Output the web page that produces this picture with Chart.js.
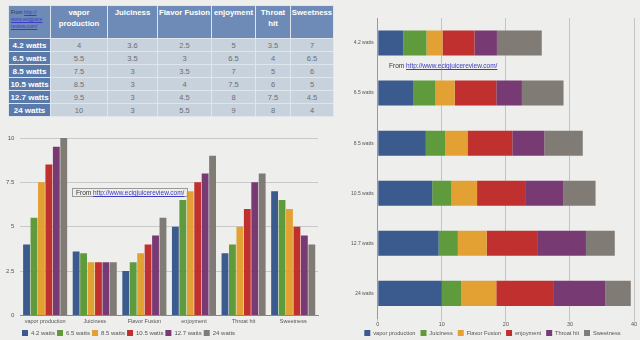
<!DOCTYPE html>
<html>
<head>
<meta charset="utf-8">
<script src="https://cdn.jsdelivr.net/npm/chart.js@4"></script>
<style>
  body { margin: 0; width: 640px; height: 340px; background: #eeeeec; position: relative; overflow: hidden; font-family: "Liberation Sans", Arial, sans-serif; }
  #tbl { position: absolute; left: 8px; top: 5px; width: 325px; border-collapse: collapse; table-layout: fixed; }
  #tbl th, #tbl td { padding: 0; text-align: center; border: 1px solid #dfe5ec; }
  #tbl thead th { background: #6d8bb6; color: #fff; font-size: 7.8px; font-weight: bold; height: 31px; line-height: 11px; vertical-align: top; padding-top: 1px; white-space: nowrap; }
  #tbl tbody th { background: #5a7aab; color: #fff; font-size: 8px; font-weight: bold; height: 12px; }
  #tbl tbody td { background: #c8d2dd; color: #6a6e74; font-size: 7.5px; height: 12px; }
  #tbl thead th.src { font-size: 5px; line-height: 7px; text-align: left; font-weight: normal; color: #333; padding-left: 2px; padding-top: 3px; height: 29px; }
  a { color: #3b3bc4; }
  .note { position: absolute; font-size: 6.5px; color: #333; white-space: nowrap; }
  #note1 { left: 72px; top: 188px; border: 1px solid #999; padding: 0 3px; }
  #note2 { left: 389px; top: 62px; }
  canvas { position: absolute; }
  #left { left: 0; top: 128px; }
  #right { left: 335px; top: 0; }
</style>
</head>
<body>
<table id="tbl"></table>
<canvas id="left" width="325" height="212"></canvas>
<canvas id="right" width="305" height="340"></canvas>
<div class="note" id="note1">From <a href="#">http://www.ecigjuicereview.com/</a></div>
<div class="note" id="note2">From <a href="#">http://www.ecigjuicereview.com/</a></div>
<script>
const attributes = ['vapor production', 'Juiciness', 'Flavor Fusion', 'enjoyment', 'Throat hit', 'Sweetness'];
const wattages = ['4.2 watts', '6.5 watts', '8.5 watts', '10.5 watts', '12.7 watts', '24 watts'];
const w4_2 = [4, 3.6, 2.5, 5, 3.5, 7];
const w6_5 = [5.5, 3.5, 3, 6.5, 4, 6.5];
const w8_5 = [7.5, 3, 3.5, 7, 5, 6];
const w10_5 = [8.5, 3, 4, 7.5, 6, 5];
const w12_7 = [9.5, 3, 4.5, 8, 7.5, 4.5];
const w24 = [10, 3, 5.5, 9, 8, 4];
const rows = [w4_2, w6_5, w8_5, w10_5, w12_7, w24];
const colors = ['#3b5a8e', '#5f9a3c', '#e3a134', '#c0302f', '#773a73', '#817b75'];

// table
const tbl = document.getElementById('tbl');
let html = '<colgroup><col style="width:42px"><col style="width:57px"><col style="width:50px"><col style="width:54px"><col style="width:44px"><col style="width:35px"><col style="width:43px"></colgroup>';
html += '<thead><tr><th class="src">From <a href="#">http://<br>www.ecigjuice<br>review.com/</a></th>';
attributes.forEach(a => {
  let t = a;
  if (a === 'Throat hit') t = 'Throat<br>hit';
  if (a === 'vapor production') t = 'vapor<br>production';
  html += '<th>' + t + '</th>';
});
html += '</tr></thead><tbody>';
rows.forEach((r, i) => {
  html += '<tr><th>' + wattages[i] + '</th>' + r.map(v => '<td>' + v + '</td>').join('') + '</tr>';
});
tbl.innerHTML = html + '</tbody>';

Chart.defaults.font.family = '"Liberation Sans", Arial, sans-serif';
Chart.defaults.color = '#555';
Chart.defaults.animation = false;

// grouped bars
new Chart(document.getElementById('left'), {
  type: 'bar',
  data: {
    labels: attributes,
    datasets: rows.map((r, i) => ({
      label: wattages[i], data: r, backgroundColor: colors[i],
      barPercentage: 0.92, categoryPercentage: 0.9
    }))
  },
  options: {
    responsive: false,
    layout: { padding: { left: 0, right: 7, top: 10, bottom: 1 } },
    plugins: {
      legend: { position: 'bottom', align: 'start', maxHeight: 11,
        labels: { boxWidth: 6, boxHeight: 6, padding: 2, font: { size: 6 } } },
      tooltip: { enabled: false }
    },
    scales: {
      x: { grid: { display: false, drawTicks: false }, border: { color: '#888' },
        ticks: { font: { size: 5.5 }, padding: 3, maxRotation: 0 } },
      y: { min: 0, max: 10, border: { display: false },
        grid: { color: '#c9c9c9', drawTicks: false },
        ticks: { stepSize: 2.5, font: { size: 6 }, padding: 6 } }
    }
  },
  plugins: [{ id: 'shiftLegend', afterLayout(chart) { chart.legend.left += 20; } }]
});

// stacked horizontal bars
new Chart(document.getElementById('right'), {
  type: 'bar',
  data: {
    labels: wattages,
    datasets: attributes.map((a, j) => ({
      label: a, data: rows.map(r => r[j]), backgroundColor: colors[j],
      barPercentage: 0.5, categoryPercentage: 1
    }))
  },
  options: {
    indexAxis: 'y',
    responsive: false,
    layout: { padding: { left: 12, right: 6, top: 18, bottom: 1 } },
    plugins: {
      legend: { position: 'bottom', maxHeight: 11,
        labels: { boxWidth: 6, boxHeight: 6, padding: 5, font: { size: 5.7 } } },
      tooltip: { enabled: false }
    },
    scales: {
      x: { stacked: true, min: 0, max: 40, border: { display: false },
        grid: { color: '#c4c4c4', tickLength: 3 },
        ticks: { stepSize: 10, font: { size: 5.5 }, padding: 0 } },
      y: { stacked: true, grid: { display: false, drawTicks: false }, border: { color: '#999' },
        ticks: { font: { size: 5 }, padding: 4 } }
    }
  },
  plugins: [{ id: 'raiseLegend', afterLayout(chart) { chart.legend.top -= 3; chart.legend.left += 4; } }]
});
</script>
</body>
</html>
